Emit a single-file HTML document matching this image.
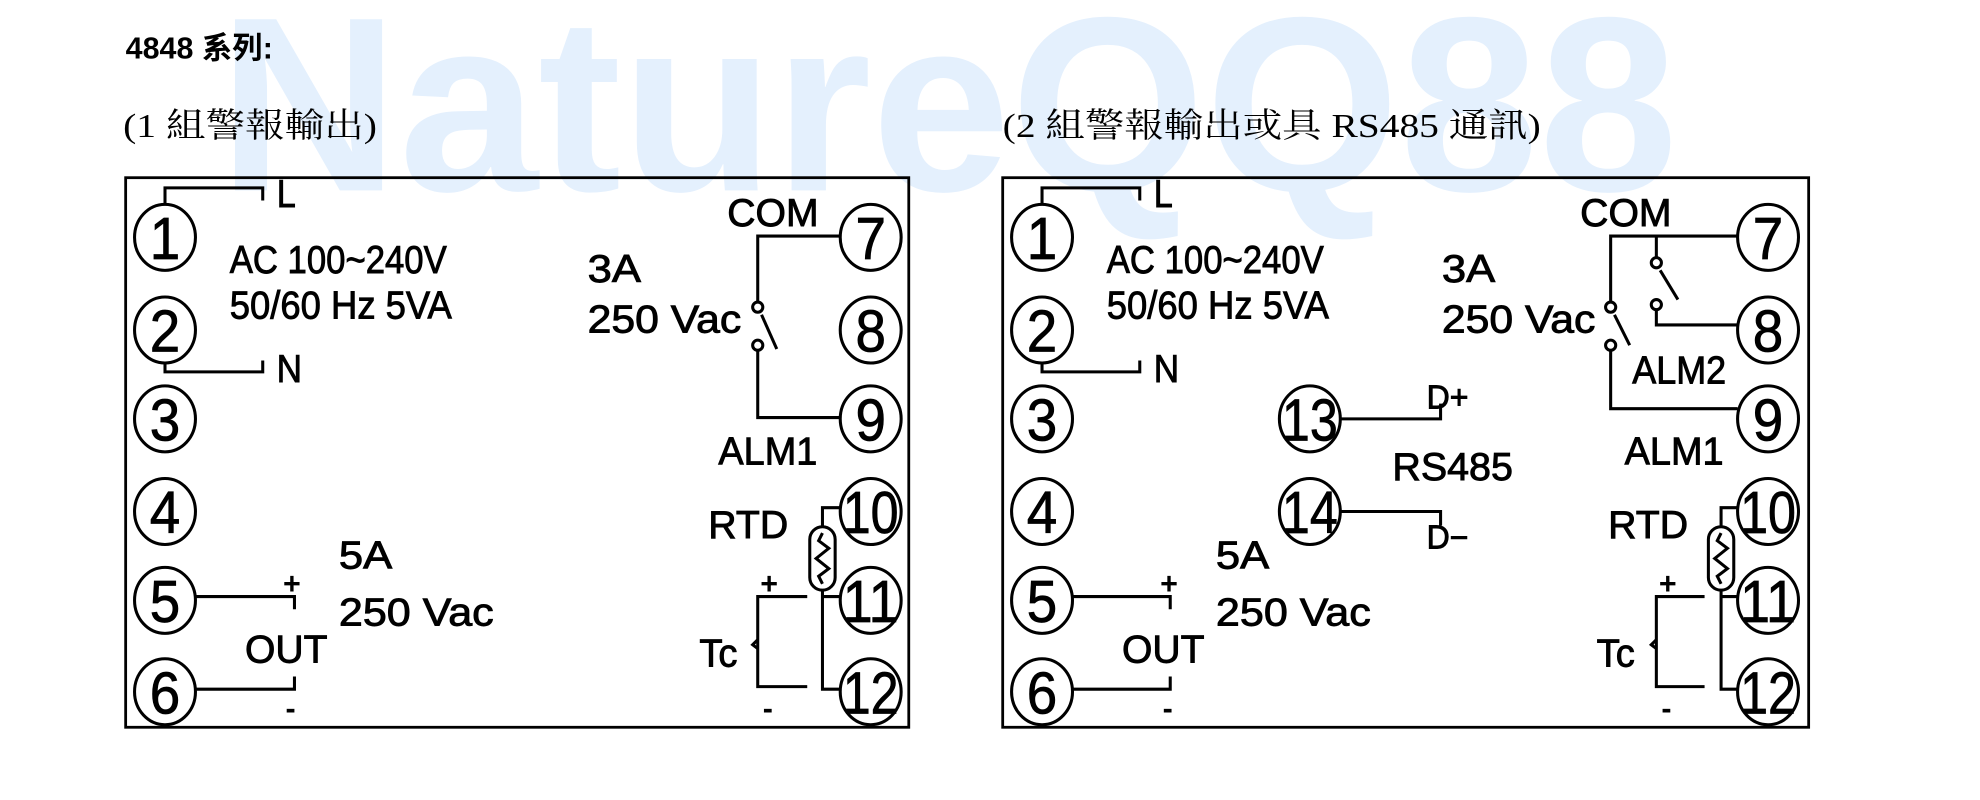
<!DOCTYPE html>
<html><head><meta charset="utf-8"><style>
html,body{margin:0;padding:0;background:#fff;}
svg{display:block;}
text{font-family:"Liberation Sans",sans-serif;fill:#000;}
.n{font-size:47px;text-anchor:middle;stroke:#000;stroke-width:0.6;}
.l{font-size:31px;stroke:#000;stroke-width:0.7;}
.s{font-size:24px;font-weight:bold;}
.cjk{font-family:"Liberation Serif","Noto Serif CJK SC","Noto Sans CJK TC",serif;font-size:27px;}
</style></head><body>
<svg width="1980" height="800" viewBox="0 0 1560 630.3" preserveAspectRatio="none" xmlns="http://www.w3.org/2000/svg">
<text x="172" y="150" style="font-family:'Liberation Sans',sans-serif;font-weight:bold;font-size:196px;fill:#e4f0fd" textLength="1150" lengthAdjust="spacingAndGlyphs">NatureQQ88</text>
<text x="99" y="46" style="font-family:'Liberation Sans','Noto Sans CJK TC',sans-serif;font-weight:bold;font-size:24px">4848 系列:</text>
<text x="97" y="108" class="cjk" textLength="200" lengthAdjust="spacingAndGlyphs">(1 組警報輸出)</text>
<text x="790" y="108" class="cjk" textLength="424" lengthAdjust="spacingAndGlyphs">(2 組警報輸出或具 RS485 通訊)</text>

<g fill="none" stroke="#000" stroke-width="2.2">
<rect x="99" y="140" width="617" height="433"/>
<rect x="790" y="140" width="635" height="433"/>
</g>

<!-- Box 1 -->
<g fill="none" stroke="#000" stroke-width="2.4">
<ellipse cx="130" cy="187" rx="24" ry="26"/><ellipse cx="130" cy="260" rx="24" ry="26"/>
<ellipse cx="130" cy="330" rx="24" ry="26"/><ellipse cx="130" cy="403" rx="24" ry="26"/>
<ellipse cx="130" cy="473" rx="24" ry="26"/><ellipse cx="130" cy="545" rx="24" ry="26"/>
<ellipse cx="686" cy="187" rx="24" ry="26"/><ellipse cx="686" cy="260" rx="24" ry="26"/>
<ellipse cx="686" cy="330" rx="24" ry="26"/><ellipse cx="686" cy="403" rx="24" ry="26"/>
<ellipse cx="686" cy="473" rx="24" ry="26"/><ellipse cx="686" cy="545" rx="24" ry="26"/>
<polyline points="130,161 130,148 207,148 207,158"/>
<polyline points="130,286 130,293 207,293 207,284"/>
<polyline points="154,470 232,470 232,480"/>
<polyline points="154,543 232,543 232,533"/>
<polyline points="662,186 597,186 597,238"/>
<circle cx="597" cy="242" r="4"/><line x1="600" y1="248" x2="612" y2="275"/>
<circle cx="597" cy="272" r="4"/>
<polyline points="597,276 597,329 662,329"/>
<polyline points="662,400 648,400 648,415"/>
<rect x="638" y="415" width="20" height="50" rx="10"/>
<polyline points="648,420 645,426 653,432 643,440 653,448 645,454 648,460"/>
<polyline points="648,465 648,543 662,543"/>
<line x1="648" y1="470" x2="662" y2="470"/>
<polyline points="636,470 597,470 597,541 636,541"/>
<polyline points="597,504 593,508 597,511"/>
</g>
<g>
<text class="n" x="130" y="204" textLength="24" lengthAdjust="spacingAndGlyphs">1</text><text class="n" x="130" y="277" textLength="24" lengthAdjust="spacingAndGlyphs">2</text>
<text class="n" x="130" y="347" textLength="24" lengthAdjust="spacingAndGlyphs">3</text><text class="n" x="130" y="420" textLength="24" lengthAdjust="spacingAndGlyphs">4</text>
<text class="n" x="130" y="490" textLength="24" lengthAdjust="spacingAndGlyphs">5</text><text class="n" x="130" y="562" textLength="24" lengthAdjust="spacingAndGlyphs">6</text>
<text class="n" x="686" y="204" textLength="24" lengthAdjust="spacingAndGlyphs">7</text><text class="n" x="686" y="277" textLength="24" lengthAdjust="spacingAndGlyphs">8</text>
<text class="n" x="686" y="347" textLength="24" lengthAdjust="spacingAndGlyphs">9</text>
<text class="n" x="686" y="420" textLength="44" lengthAdjust="spacingAndGlyphs">10</text>
<text class="n" x="686" y="490" textLength="44" lengthAdjust="spacingAndGlyphs">11</text>
<text class="n" x="686" y="562" textLength="44" lengthAdjust="spacingAndGlyphs">12</text>
<text class="l" x="218" y="163" textLength="15" lengthAdjust="spacingAndGlyphs">L</text><text class="l" x="218" y="301" textLength="20" lengthAdjust="spacingAndGlyphs">N</text>
<text class="l" x="181" y="215" textLength="171" lengthAdjust="spacingAndGlyphs">AC 100~240V</text>
<text class="l" x="181" y="251" textLength="175" lengthAdjust="spacingAndGlyphs">50/60 Hz  5VA</text>
<text class="l" x="463" y="222" textLength="42" lengthAdjust="spacingAndGlyphs">3A</text>
<text class="l" x="463" y="262" textLength="121" lengthAdjust="spacingAndGlyphs">250 Vac</text>
<text class="l" x="573" y="178" textLength="72" lengthAdjust="spacingAndGlyphs">COM</text>
<text class="l" x="566" y="366" textLength="78" lengthAdjust="spacingAndGlyphs">ALM1</text>
<text class="l" x="558" y="424" textLength="63" lengthAdjust="spacingAndGlyphs">RTD</text>
<text class="l" x="551" y="525" textLength="30" lengthAdjust="spacingAndGlyphs">Tc</text>
<text class="s" x="599" y="468">+</text>
<text class="s" x="601" y="566">-</text>
<text class="s" x="223" y="468">+</text>
<text class="s" x="225" y="566">-</text>
<text class="l" x="193" y="522" textLength="65" lengthAdjust="spacingAndGlyphs">OUT</text>
<text class="l" x="267" y="448" textLength="42" lengthAdjust="spacingAndGlyphs">5A</text>
<text class="l" x="267" y="493" textLength="122" lengthAdjust="spacingAndGlyphs">250 Vac</text>
</g>

<!-- Box 2 -->
<g fill="none" stroke="#000" stroke-width="2.4">
<ellipse cx="821" cy="187" rx="24" ry="26"/><ellipse cx="821" cy="260" rx="24" ry="26"/>
<ellipse cx="821" cy="330" rx="24" ry="26"/><ellipse cx="821" cy="403" rx="24" ry="26"/>
<ellipse cx="821" cy="473" rx="24" ry="26"/><ellipse cx="821" cy="545" rx="24" ry="26"/>
<ellipse cx="1393" cy="187" rx="24" ry="26"/><ellipse cx="1393" cy="260" rx="24" ry="26"/>
<ellipse cx="1393" cy="330" rx="24" ry="26"/><ellipse cx="1393" cy="403" rx="24" ry="26"/>
<ellipse cx="1393" cy="473" rx="24" ry="26"/><ellipse cx="1393" cy="545" rx="24" ry="26"/>
<ellipse cx="1032" cy="330" rx="24" ry="26"/><ellipse cx="1032" cy="403" rx="24" ry="26"/>
<polyline points="821,161 821,148 898,148 898,158"/>
<polyline points="821,286 821,293 898,293 898,284"/>
<polyline points="845,470 922,470 922,480"/>
<polyline points="845,543 922,543 922,533"/>
<polyline points="1056,330 1135,330 1135,318"/>
<polyline points="1056,403 1135,403 1135,414"/>
<polyline points="1369,186 1269,186 1269,238"/>
<circle cx="1269" cy="242" r="4"/><line x1="1272" y1="248" x2="1284" y2="272"/>
<circle cx="1269" cy="272" r="4"/>
<polyline points="1269,276 1269,322 1369,322"/>
<line x1="1305" y1="186" x2="1305" y2="203"/>
<circle cx="1305" cy="207" r="4"/><line x1="1308" y1="213" x2="1322" y2="236"/>
<circle cx="1305" cy="240" r="4"/>
<polyline points="1305,244 1305,256 1369,256"/>
<polyline points="1369,400 1356,400 1356,415"/>
<rect x="1346" y="415" width="20" height="50" rx="10"/>
<polyline points="1356,420 1353,426 1361,432 1351,440 1361,448 1353,454 1356,460"/>
<polyline points="1356,465 1356,543 1369,543"/>
<line x1="1356" y1="470" x2="1369" y2="470"/>
<polyline points="1343,470 1305,470 1305,541 1343,541"/>
<polyline points="1305,504 1301,508 1305,511"/>
</g>
<g>
<text class="n" x="821" y="204" textLength="24" lengthAdjust="spacingAndGlyphs">1</text><text class="n" x="821" y="277" textLength="24" lengthAdjust="spacingAndGlyphs">2</text>
<text class="n" x="821" y="347" textLength="24" lengthAdjust="spacingAndGlyphs">3</text><text class="n" x="821" y="420" textLength="24" lengthAdjust="spacingAndGlyphs">4</text>
<text class="n" x="821" y="490" textLength="24" lengthAdjust="spacingAndGlyphs">5</text><text class="n" x="821" y="562" textLength="24" lengthAdjust="spacingAndGlyphs">6</text>
<text class="n" x="1393" y="204" textLength="24" lengthAdjust="spacingAndGlyphs">7</text><text class="n" x="1393" y="277" textLength="24" lengthAdjust="spacingAndGlyphs">8</text>
<text class="n" x="1393" y="347" textLength="24" lengthAdjust="spacingAndGlyphs">9</text>
<text class="n" x="1393" y="420" textLength="44" lengthAdjust="spacingAndGlyphs">10</text>
<text class="n" x="1393" y="490" textLength="44" lengthAdjust="spacingAndGlyphs">11</text>
<text class="n" x="1393" y="562" textLength="44" lengthAdjust="spacingAndGlyphs">12</text>
<text class="n" x="1032" y="347" textLength="44" lengthAdjust="spacingAndGlyphs">13</text>
<text class="n" x="1032" y="420" textLength="44" lengthAdjust="spacingAndGlyphs">14</text>
<text class="l" x="909" y="163" textLength="15" lengthAdjust="spacingAndGlyphs">L</text><text class="l" x="909" y="301" textLength="20" lengthAdjust="spacingAndGlyphs">N</text>
<text class="l" x="872" y="215" textLength="171" lengthAdjust="spacingAndGlyphs">AC 100~240V</text>
<text class="l" x="872" y="251" textLength="175" lengthAdjust="spacingAndGlyphs">50/60 Hz  5VA</text>
<text class="l" x="1136" y="222" textLength="42" lengthAdjust="spacingAndGlyphs">3A</text>
<text class="l" x="1136" y="262" textLength="121" lengthAdjust="spacingAndGlyphs">250 Vac</text>
<text class="l" x="1245" y="178" textLength="72" lengthAdjust="spacingAndGlyphs">COM</text>
<text class="l" x="1286" y="302" textLength="74" lengthAdjust="spacingAndGlyphs">ALM2</text>
<text class="l" x="1280" y="366" textLength="78" lengthAdjust="spacingAndGlyphs">ALM1</text>
<text class="l" x="1124" y="322" style="font-size:26px" textLength="33" lengthAdjust="spacingAndGlyphs">D+</text>
<text class="l" x="1124" y="432" style="font-size:26px" textLength="33" lengthAdjust="spacingAndGlyphs">D−</text>
<text class="l" x="1097" y="378" textLength="95" lengthAdjust="spacingAndGlyphs">RS485</text>
<text class="l" x="1267" y="424" textLength="63" lengthAdjust="spacingAndGlyphs">RTD</text>
<text class="l" x="1258" y="525" textLength="30" lengthAdjust="spacingAndGlyphs">Tc</text>
<text class="s" x="1307" y="468">+</text>
<text class="s" x="1309" y="566">-</text>
<text class="s" x="914" y="468">+</text>
<text class="s" x="916" y="566">-</text>
<text class="l" x="884" y="522" textLength="65" lengthAdjust="spacingAndGlyphs">OUT</text>
<text class="l" x="958" y="448" textLength="42" lengthAdjust="spacingAndGlyphs">5A</text>
<text class="l" x="958" y="493" textLength="122" lengthAdjust="spacingAndGlyphs">250 Vac</text>
</g>
</svg>
</body></html>
